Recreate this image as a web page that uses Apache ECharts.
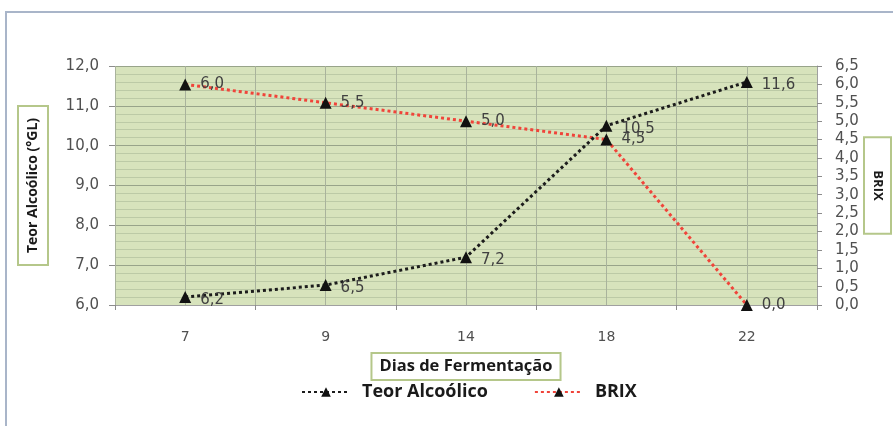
<!DOCTYPE html>
<html>
<head>
<meta charset="utf-8">
<script src="https://cdn.jsdelivr.net/npm/echarts@6/dist/echarts.min.js"></script>
<style>
  html, body { margin: 0; padding: 0; background: #ffffff; }
  #chart { width: 893px; height: 426px; }
</style>
</head>
<body>
<div id="chart"></div>
<script>
// Fermentation days and the two measured series
const dias = ['7', '9', '14', '18', '22'];
const teorAlcoolico = [6.2, 6.5, 7.2, 10.5, 11.6];
const brix = [6.0, 5.5, 5.0, 4.5, 0.0];

const fmt = v => Number(v).toFixed(1).replace('.', ',');
const labelFont = 'DejaVu Sans';
const boldFont = 'Open Sans';

const chart = echarts.init(document.getElementById('chart'));

chart.setOption({
  animation: false,
  backgroundColor: '#ffffff',
  graphic: [{
    type: 'rect',
    shape: { x: 6, y: 12, width: 920, height: 440 },
    style: { fill: 'none', stroke: '#a9b5c9', lineWidth: 2 },
    z: 0
  }],
  grid: {
    left: 115, right: 76, top: 66, bottom: 121,
    outerBoundsMode: 'none',
    containLabel: false,
    show: true, backgroundColor: '#d7e3bc', borderWidth: 0
  },
  legend: {
    bottom: 20,
    left: 296,
    itemGap: 46,
    itemWidth: 48,
    itemHeight: 12,
    textStyle: {
      fontFamily: boldFont, fontWeight: 'bold', fontSize: 18, color: '#1a1a1a',
      padding: [0, 0, 0, 7]
    },
    data: ['Teor Alcoólico', 'BRIX']
  },
  xAxis: [{
    type: 'category',
    data: dias,
    boundaryGap: true,
    name: 'Dias de Fermentação',
    nameLocation: 'middle',
    nameGap: 49,
    nameTextStyle: {
      fontFamily: boldFont, fontWeight: 'bold', fontSize: 16.5, color: '#1a1a1a',
      borderColor: '#b5c78a', borderWidth: 2, padding: [4, 7, 4, 7], backgroundColor: '#ffffff'
    },
    axisLine: { show: true, lineStyle: { color: '#a0a0a0', width: 1 } },
    axisTick: { show: true, length: 5, lineStyle: { color: '#8c8c8c' } },
    axisLabel: { margin: 25, fontFamily: labelFont, fontSize: 14, color: '#505050' },
    splitLine: { show: false }
  }, {
    // plain value scale used only to draw the vertical gridlines
    type: 'value',
    min: 0, max: 10, interval: 1,
    position: 'bottom',
    show: true,
    axisLine: { show: false }, axisTick: { show: false }, axisLabel: { show: false },
    splitLine: { show: true, lineStyle: { color: '#a9b39c', width: 1 } }
  }],
  yAxis: [{
    type: 'value',
    min: 6, max: 12, interval: 1,
    name: 'Teor Alcoólico (°GL)',
    nameLocation: 'middle',
    nameRotate: 90,
    nameGap: 68,
    nameMoveOverlap: false,
    nameTextStyle: {
      fontFamily: boldFont, fontWeight: 'bold', fontSize: 14, color: '#1a1a1a',
      borderColor: '#b5c78a', borderWidth: 2, padding: [7, 11, 7, 11], backgroundColor: '#ffffff'
    },
    axisLine: { show: false },
    axisTick: { show: true, length: 6, lineStyle: { color: '#8c8c8c' } },
    axisLabel: { margin: 16, fontFamily: labelFont, fontSize: 15, color: '#505050', formatter: fmt },
    splitLine: { show: true, lineStyle: { color: '#98a48a', width: 1 } },
    minorTick: { show: false, splitNumber: 5 },
    minorSplitLine: { show: true, lineStyle: { color: '#bccaa6', width: 1 } }
  }, {
    type: 'value',
    min: 0, max: 6.5, interval: 0.5,
    position: 'right',
    name: 'BRIX',
    nameLocation: 'middle',
    nameRotate: -90,
    nameGap: 48,
    nameMoveOverlap: false,
    nameTextStyle: {
      fontFamily: boldFont, fontWeight: 'bold', fontSize: 13, color: '#1a1a1a',
      borderColor: '#b5c78a', borderWidth: 2, padding: [6, 32, 6, 32], backgroundColor: '#ffffff'
    },
    axisLine: { show: true, lineStyle: { color: '#a0a0a0', width: 1 } },
    axisTick: { show: true, length: 5, lineStyle: { color: '#8c8c8c' } },
    axisLabel: { margin: 18, fontFamily: labelFont, fontSize: 15, color: '#505050', formatter: fmt },
    splitLine: { show: false }
  }],
  series: [{
    name: 'Teor Alcoólico',
    type: 'line',
    xAxisIndex: 0,
    yAxisIndex: 0,
    data: teorAlcoolico,
    symbol: 'triangle',
    symbolSize: 12,
    itemStyle: { color: '#111111' },
    lineStyle: { color: '#1c1c1c', width: 3, type: [3, 3] },
    label: {
      show: true, position: 'right', distance: 9, offset: [0, 3],
      fontFamily: labelFont, fontSize: 15, color: '#404040', formatter: p => fmt(p.value)
    },
    z: 3
  }, {
    name: 'BRIX',
    type: 'line',
    xAxisIndex: 0,
    yAxisIndex: 1,
    data: brix,
    symbol: 'triangle',
    symbolSize: 12,
    itemStyle: { color: '#111111' },
    lineStyle: { color: '#f0443a', width: 3, type: [3, 3] },
    label: {
      show: true, position: 'right', distance: 9,
      fontFamily: labelFont, fontSize: 15, color: '#404040', formatter: p => fmt(p.value)
    },
    z: 2
  }]
});
</script>
</body>
</html>
